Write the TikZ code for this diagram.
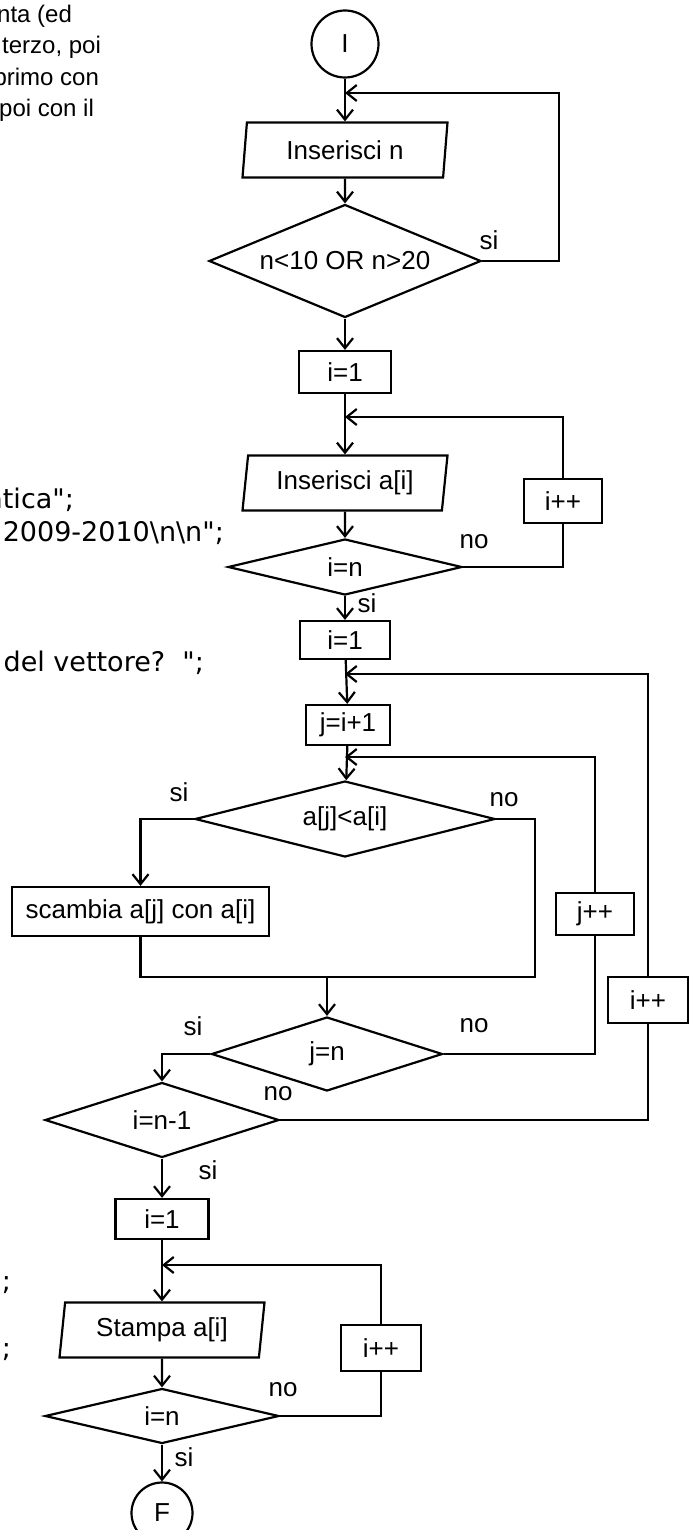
\documentclass[tikz,border=0pt]{standalone}
\usepackage{fontspec}
\setmainfont{Liberation Sans}
\newfontfamily\codefont{DejaVu Sans}
\usetikzlibrary{shapes.geometric,arrows.meta,calc}

\begin{document}
\begin{tikzpicture}[x=1pt,y=-1pt,
    line width=2.2pt,
    font=\fontsize{26}{30}\selectfont,
    flow/.style={-{Straight Barb[length=10pt,width=16pt]}},
    terminal/.style={circle, draw, inner sep=0pt},
    io/.style={trapezium, draw, trapezium left angle=77, trapezium right angle=103,
        trapezium stretches body, minimum width=205pt, minimum height=55pt, inner sep=0pt},
    process/.style={rectangle, draw, inner sep=0pt},
    decision/.style={diamond, draw, inner sep=0pt},
    cliptext/.style={anchor=base east, inner sep=0pt, font=\fontsize{24}{30}\selectfont},
    codetext/.style={anchor=base east, inner sep=0pt, font=\codefont\fontsize{27}{30}\selectfont}]
    \useasboundingbox (0,0) rectangle (689,1530);

    % Text cut off at the left
    \node[cliptext] (note1) at (73,23) {nta (ed};
    \node[cliptext] (note2) at (102,54) {terzo, poi};
    \node[cliptext] (note3) at (100,86) {primo con};
    \node[cliptext] (note4) at (95,117) {poi con il};
    \node[codetext] (code1) at (75,508) {atica";};
    \node[codetext] (code2) at (225,541) {2009-2010\textbackslash n\textbackslash n";};
    \node[codetext] (code3) at (205,671) {del vettore?~~";};
    \node[codetext] (code4) at (12,1290) {";};
    \node[codetext] (code5) at (12,1357) {;};

    % Input n
    \node[terminal, minimum size=67pt] (start) at (345,44) {I};
    \node[io] (inN) at (345,150) {Inserisci n};
    \node[decision, minimum width=272pt, minimum height=113pt, aspect=2.4] (dec1) at (345,261) {n<10 OR n>20};
    \coordinate (back1) at (345,93);
    \draw[flow] (start) -- (inN);
    \draw[flow] (inN) -- (dec1);
    \draw[flow] (dec1.east) -- ++(77,0) |- (back1);
    \node (si1) at (489,240) {si};

    % Input vector
    \node[process, minimum width=92pt, minimum height=42pt] (box1) at (345,372) {i=1};
    \node[io] (inA) at (345,483) {Inserisci a[i]};
    \node[decision, minimum width=234pt, minimum height=56pt, aspect=4.2] (dec2) at (345,567) {i=n};
    \node[process, minimum width=78pt, minimum height=44pt] (incr1) at (563,501) {i++};
    \coordinate (back2) at (345,417);
    \draw[flow] (dec1) -- (box1);
    \draw[flow] (box1) -- (inA);
    \draw[flow] (inA) -- (dec2);
    \draw (dec2.east) -| (incr1.south);
    \draw[flow] (incr1.north) |- (back2);
    \node (no1) at (474,542) {no};
    \node (si2) at (367,603) {si};

    % Sorting
    \node[process, minimum width=90pt, minimum height=38pt] (box2) at (345,640) {i=1};
    \node[process, minimum width=84pt, minimum height=40pt] (boxJ) at (348,725) {j=i+1};
    \node[decision, minimum width=300pt, minimum height=76pt, aspect=3.9] (dec3) at (345,819) {a[j]<a[i]};
    \node[process, minimum width=257pt, minimum height=49pt] (swap) at (140.5,911.5) {scambia a[j] con a[i]};
    \node[process, minimum width=78pt, minimum height=42pt] (incrJ) at (595,914) {j++};
    \node[process, minimum width=80pt, minimum height=46pt] (incrI) at (648,1000) {i++};
    \node[decision, minimum width=231pt, minimum height=74pt, aspect=3.1] (dec4) at (327,1054) {j=n};
    \node[decision, minimum width=234pt, minimum height=75pt, aspect=3.1] (dec5) at (162,1120) {i=n-1};
    \coordinate (back3) at (345,674);
    \coordinate (back4) at (345,757);
    \coordinate (merge) at (327,977);
    \draw[flow] (dec2) -- (box2);
    \draw[flow] (box2) -- (boxJ);
    \draw[flow] (boxJ) -- (dec3);
    \draw[flow] (dec3.west) -| (swap.north);
    \draw (swap.south) |- (merge) -| ($(dec3.east)+(39,0)$) -- (dec3.east);
    \draw[flow] (merge) -- (dec4.north);
    \draw (dec4.east) -| (incrJ.south);
    \draw[flow] (incrJ.north) |- (back4);
    \draw[flow] (dec4.west) -| (dec5.north);
    \draw (dec5.east) -| (incrI.south);
    \draw[flow] (incrI.north) |- (back3);
    \node (si3) at (179,792) {si};
    \node (no2) at (504,800) {no};
    \node (si4) at (193,1026) {si};
    \node (no3) at (474,1026) {no};
    \node (no4) at (278,1094) {no};
    \node (si5) at (208,1170) {si};

    % Output vector
    \node[process, minimum width=93pt, minimum height=40pt] (box3) at (162,1219) {i=1};
    \node[io] (outA) at (162,1330) {Stampa a[i]};
    \node[decision, minimum width=234pt, minimum height=55pt, aspect=4.25] (dec6) at (162,1416) {i=n};
    \node[process, minimum width=80pt, minimum height=46pt] (incr3) at (381,1348) {i++};
    \node[terminal, minimum size=61pt] (stop) at (162,1513) {F};
    \coordinate (back5) at (162,1265);
    \draw[flow] (dec5) -- (box3);
    \draw[flow] (box3) -- (outA);
    \draw[flow] (outA) -- (dec6);
    \draw (dec6.east) -| (incr3.south);
    \draw[flow] (incr3.north) |- (back5);
    \draw[flow] (dec6) -- (stop);
    \node (no5) at (283,1390) {no};
    \node (si6) at (184,1457) {si};
\end{tikzpicture}
\end{document}
